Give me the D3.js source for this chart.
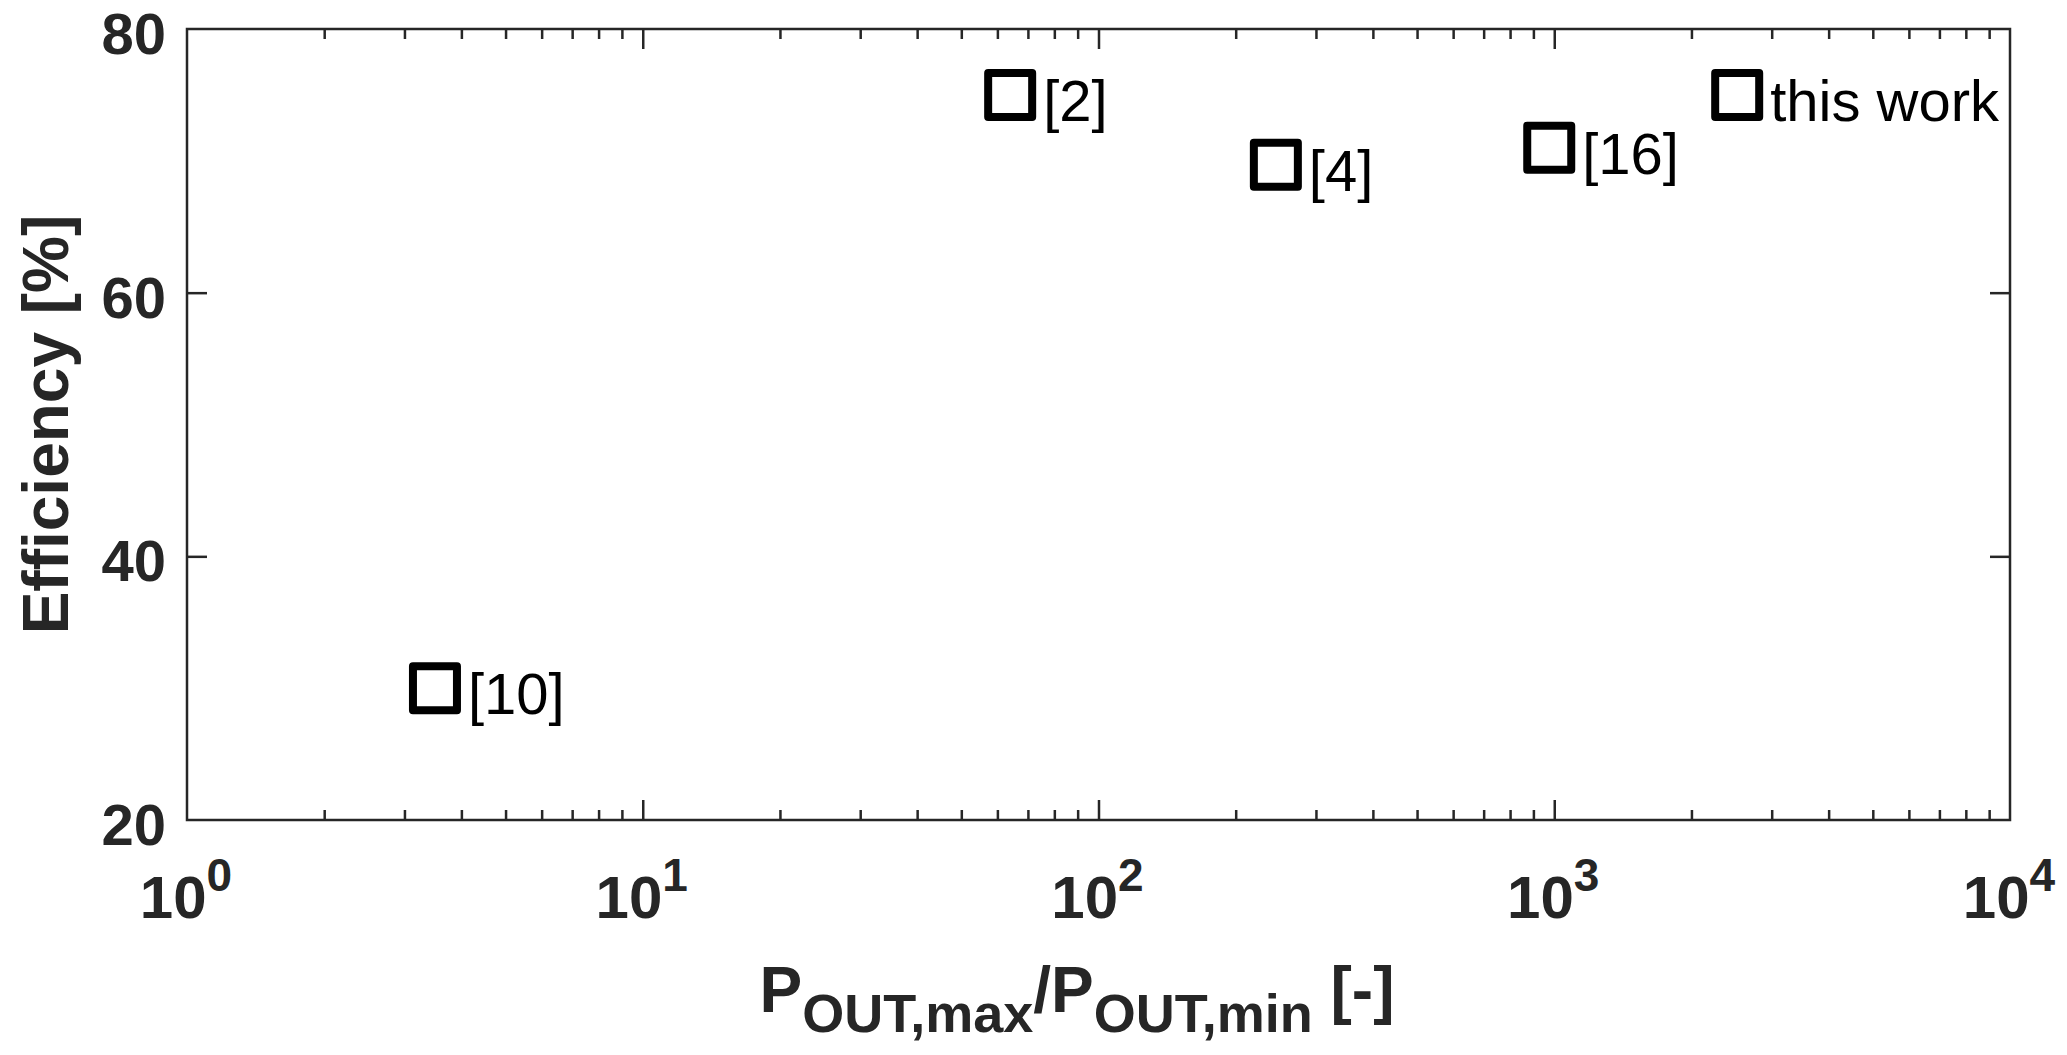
<!DOCTYPE html>
<html>
<head>
<meta charset="utf-8">
<script src="https://cdn.jsdelivr.net/npm/d3@7"></script>
<style>
  body { margin: 0; background: #fff; }
  text { font-family: "Liberation Sans", Arial, sans-serif; }
</style>
</head>
<body>
<div id="chart"></div>
<script>
// efficiency vs output power range, from the reference plot
const refs = ["[10]", "[2]", "[4]", "[16]", "this work"];
const ratio = [3.5, 64, 245, 975, 2520];
const efficiency = [30, 75, 69.7, 71, 75];

const yTicks = [20, 40, 60, 80];
const xDecades = [1, 10, 100, 1000, 10000];
const xExponents = ["0", "1", "2", "3", "4"];

var W = 2067, H = 1055;
// plot box (note: "top" is a reserved window global, so use pTop)
var pLeft = 187, pRight = 2010, pTop = 29, pBottom = 820;
var ink = "#262626";

var svg = d3.select("#chart")
  .append("svg")
    .attr("width", W)
    .attr("height", H);

var x = d3.scaleLog()
    .domain([1, 10000])
    .range([pLeft, pRight]);

var y = d3.scaleLinear()
    .domain([20, 80])
    .range([pBottom, pTop]);

// minor log ticks 2..9 in each decade
var minor = [];
xDecades.slice(0, -1).forEach(function(d) {
  for (var k = 2; k <= 9; k++) minor.push(d * k);
});

function tickAxis(axis, tr) {
  var g = svg.append("g")
      .attr("transform", tr)
      .call(axis);
  g.select(".domain").remove();
  g.selectAll("line").attr("stroke", ink).attr("stroke-width", 2.5);
  g.selectAll("text").remove();
  return g;
}

// ticks inward on all four sides
tickAxis(d3.axisBottom(x).tickValues(xDecades.slice(1, -1)).tickSize(-20), "translate(0," + pBottom + ")");
tickAxis(d3.axisBottom(x).tickValues(minor).tickSize(-10), "translate(0," + pBottom + ")");
tickAxis(d3.axisTop(x).tickValues(xDecades.slice(1, -1)).tickSize(-20), "translate(0," + pTop + ")");
tickAxis(d3.axisTop(x).tickValues(minor).tickSize(-10), "translate(0," + pTop + ")");
tickAxis(d3.axisLeft(y).tickValues(yTicks.slice(1, -1)).tickSize(-20), "translate(" + pLeft + ",0)");
tickAxis(d3.axisRight(y).tickValues(yTicks.slice(1, -1)).tickSize(-20), "translate(" + pRight + ",0)");

// box
svg.append("rect")
    .attr("x", pLeft)
    .attr("y", pTop)
    .attr("width", pRight - pLeft)
    .attr("height", pBottom - pTop)
    .attr("fill", "none")
    .attr("stroke", ink)
    .attr("stroke-width", 2.5);

// y tick labels
svg.selectAll(".ylab")
  .data(yTicks)
  .enter()
  .append("text")
    .attr("x", pLeft - 21)
    .attr("y", function(d) { return y(d) + 25; })
    .attr("text-anchor", "end")
    .style("font-size", "58px")
    .style("font-weight", "bold")
    .attr("fill", ink)
    .text(function(d) { return d; });

// x tick labels 10^n
var xl = svg.selectAll(".xlab")
  .data(xDecades)
  .enter()
  .append("text")
    .attr("x", function(d) { return x(d) - 1; })
    .attr("y", 918)
    .attr("text-anchor", "middle")
    .style("font-weight", "bold")
    .attr("fill", ink);
xl.append("tspan")
    .style("font-size", "60px")
    .text("10");
xl.append("tspan")
    .attr("dy", -27)
    .style("font-size", "46px")
    .text(function(d, i) { return xExponents[i]; });

// axis titles
var xt = svg.append("text")
    .attr("x", 1077)
    .attr("y", 1012)
    .attr("text-anchor", "middle")
    .style("font-weight", "bold")
    .attr("fill", ink);
xt.append("tspan").style("font-size", "64px").text("P");
xt.append("tspan").attr("dy", 20).style("font-size", "54px").text("OUT,max");
xt.append("tspan").attr("dy", -20).style("font-size", "64px").text("/P");
xt.append("tspan").attr("dy", 20).style("font-size", "54px").text("OUT,min");
xt.append("tspan").attr("dy", -20).style("font-size", "64px").text(" [-]");

svg.append("text")
    .attr("transform", "translate(68," + ((pTop + pBottom) / 2) + ") rotate(-90)")
    .attr("text-anchor", "middle")
    .style("font-size", "64px")
    .style("font-weight", "bold")
    .attr("fill", ink)
    .text("Efficiency [%]");

// markers
var pts = refs.map(function(r, i) { return {ref: r, x: ratio[i], y: efficiency[i]}; });
var s = 44;

svg.selectAll("rect.mark")
  .data(pts)
  .enter()
  .append("rect")
    .attr("class", "mark")
    .attr("x", function(d) { return x(d.x) - s / 2; })
    .attr("y", function(d) { return y(d.y) - s / 2; })
    .attr("width", s)
    .attr("height", s)
    .attr("fill", "none")
    .attr("stroke", "#000")
    .attr("stroke-width", 8)
    .attr("stroke-linejoin", "round");

svg.selectAll(".reflab")
  .data(pts)
  .enter()
  .append("text")
    .attr("x", function(d) { return x(d.x) + 33; })
    .attr("y", function(d) { return y(d.y) + 26; })
    .style("font-size", "58px")
    .attr("fill", "#000")
    .text(function(d) { return d.ref; });
</script>
</body>
</html>
